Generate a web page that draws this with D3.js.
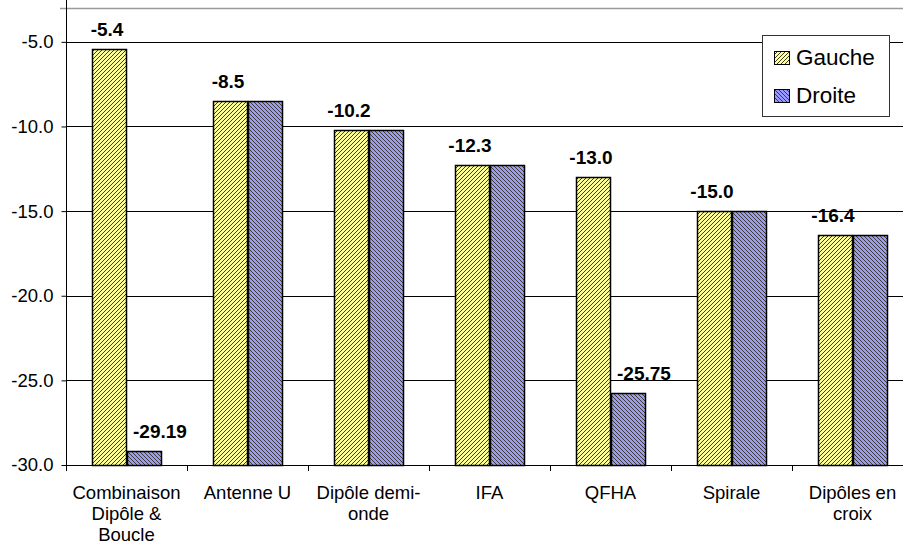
<!DOCTYPE html>
<html>
<head>
<meta charset="utf-8">
<script src="https://cdn.jsdelivr.net/npm/d3@7"></script>
<style>
  html, body { margin: 0; padding: 0; background: #fff; }
  svg { display: block; font-family: "Liberation Sans", Arial, sans-serif; }
</style>
</head>
<body>
<svg id="chart" width="903" height="547"></svg>
<script>
// ---- data ----
const categories = [
  "Combinaison\nDipôle &\nBoucle",
  "Antenne U",
  "Dipôle demi-\nonde",
  "IFA",
  "QFHA",
  "Spirale",
  "Dipôles en\ncroix"
];
const seriesNames = ["Gauche", "Droite"];
const gauche = [-5.4, -8.5, -10.2, -12.3, -13.0, -15.0, -16.4];
const droite = [-29.19, -8.5, -10.2, -12.3, -25.75, -15.0, -16.4];
const gaucheLabels = ["-5.4", "-8.5", "-10.2", "-12.3", "-13.0", "-15.0", "-16.4"];
const droiteLabels = ["-29.19", "", "", "", "-25.75", "", ""];
const yTicks = [-5, -10, -15, -20, -25, -30];

// ---- layout ----
const svg = d3.select("#chart");
const mLeft = 66, mBottom = 465, mTop = 8, band = 121;
const mRight = mLeft + categories.length * band;

const y = d3.scaleLinear().domain([-30, -3]).range([mBottom, mTop]);
const x0 = d3.scaleBand().domain(d3.range(categories.length)).range([mLeft, mRight]).padding(0);
const x1 = d3.scaleBand().domain(seriesNames).range([0, x0.bandwidth()]).paddingInner(0).paddingOuter(0.758);

// pixel hatch patterns
const defs = svg.append("defs");
function hatch(id, bg, dir) {
  const p = defs.append("pattern").attr("id", id).attr("patternUnits", "userSpaceOnUse")
    .attr("width", 4).attr("height", 4);
  p.append("rect").attr("width", 4).attr("height", 4).attr("fill", bg).attr("shape-rendering", "crispEdges");
  for (let r = 0; r < 4; r++) {
    const c = dir === "up" ? 3 - r : r;
    p.append("rect").attr("x", c).attr("y", r).attr("width", 1).attr("height", 1)
      .attr("fill", "#3c3c28").attr("shape-rendering", "crispEdges");
  }
}
hatch("patG", "#FFFF99", "up");
hatch("patD", "#9999FF", "down");
const fills = { Gauche: "url(#patG)", Droite: "url(#patD)" };

// top border line
svg.append("line").attr("x1", 60).attr("x2", 903).attr("y1", mTop + 0.5).attr("y2", mTop + 0.5)
  .attr("stroke", "#9a9a9a").attr("stroke-width", 1.5);

// gridlines
svg.append("g").selectAll("line").data(yTicks.filter(t => t !== -30)).join("line")
  .attr("x1", mLeft).attr("x2", 903)
  .attr("y1", d => Math.round(y(d)) + 0.5).attr("y2", d => Math.round(y(d)) + 0.5)
  .attr("stroke", "#000").attr("stroke-width", 1);

// y axis
const yAxis = d3.axisLeft(y).tickValues(yTicks).tickFormat(d => d3.format(".1f")(d).replace("−", "-")).tickSize(5).tickPadding(8);
const gy = svg.append("g").attr("transform", `translate(${mLeft + 0.5},0)`).call(yAxis);
gy.select(".domain").remove();
gy.selectAll(".tick line").attr("stroke", "#000");
gy.selectAll(".tick text").attr("font-size", 18.5).attr("fill", "#000")
  .attr("font-family", "Liberation Sans, Arial, sans-serif");
svg.append("line").attr("x1", mLeft + 0.5).attr("x2", mLeft + 0.5).attr("y1", 0).attr("y2", mBottom)
  .attr("stroke", "#000");

// bars
const rows = categories.map((c, i) => ({ i, vals: [
  { i, s: "Gauche", v: gauche[i], lab: gaucheLabels[i] },
  { i, s: "Droite", v: droite[i], lab: droiteLabels[i] }
]}));
const bx = d => Math.round(x0(d.i) + x1(d.s));
const bw = Math.round(x1.bandwidth());
const gCat = svg.append("g").selectAll("g").data(rows).join("g");
gCat.selectAll("rect").data(d => d.vals).join("rect")
  .attr("x", d => bx(d) + 0.5)
  .attr("width", bw)
  .attr("y", d => Math.round(y(d.v)) + 0.5)
  .attr("height", d => Math.round(y(-30)) - Math.round(y(d.v)))
  .attr("fill", d => fills[d.s])
  .attr("stroke", "#000").attr("stroke-width", 1.5);

// value labels
gCat.selectAll("text.val").data(d => d.vals.filter(v => v.lab)).join("text")
  .attr("class", "val")
  .attr("x", d => d.s === "Gauche" ? bx(d) + bw / 2 - 2 : bx(d) + 6)
  .attr("y", d => y(d.v) - 13)
  .attr("text-anchor", d => d.s === "Gauche" ? "middle" : "start")
  .attr("font-size", 19).attr("font-weight", "bold").attr("fill", "#000")
  .text(d => d.lab);

// x axis
svg.append("line").attr("x1", mLeft).attr("x2", 903).attr("y1", mBottom + 0.5).attr("y2", mBottom + 0.5)
  .attr("stroke", "#000");
svg.append("g").selectAll("line").data(d3.range(categories.length + 1)).join("line")
  .attr("x1", d => Math.round(x0(d) === undefined ? mRight : x0(d)) + 0.5)
  .attr("x2", d => Math.round(x0(d) === undefined ? mRight : x0(d)) + 0.5)
  .attr("y1", mBottom).attr("y2", mBottom + 6).attr("stroke", "#000");

// category labels
const catText = svg.append("g").selectAll("text").data(categories).join("text")
  .attr("x", (d, i) => x0(i) + x0.bandwidth() / 2)
  .attr("y", 499)
  .attr("text-anchor", "middle").attr("font-size", 18.5).attr("fill", "#000");
catText.selectAll("tspan").data(d => d.split("\n")).join("tspan")
  .attr("x", function() { return d3.select(this.parentNode).attr("x"); })
  .attr("dy", (d, i) => i === 0 ? 0 : 21)
  .text(d => d);

// legend
const lg = svg.append("g");
lg.append("rect").attr("x", 762.5).attr("y", 35.5).attr("width", 127).attr("height", 81)
  .attr("fill", "#fff").attr("stroke", "#333").attr("stroke-width", 1);
const li = lg.selectAll("g.item").data(seriesNames).join("g").attr("class", "item")
  .attr("transform", (d, i) => `translate(774,${51 + i * 38})`);
li.append("rect").attr("x", 0.5).attr("y", 0.5).attr("width", 15).attr("height", 13).attr("fill", d => fills[d])
  .attr("stroke", "#000").attr("stroke-width", 1);
li.append("text").attr("x", 22).attr("y", 14).attr("font-size", 22.5).attr("fill", "#000").text(d => d);
</script>
</body>
</html>
